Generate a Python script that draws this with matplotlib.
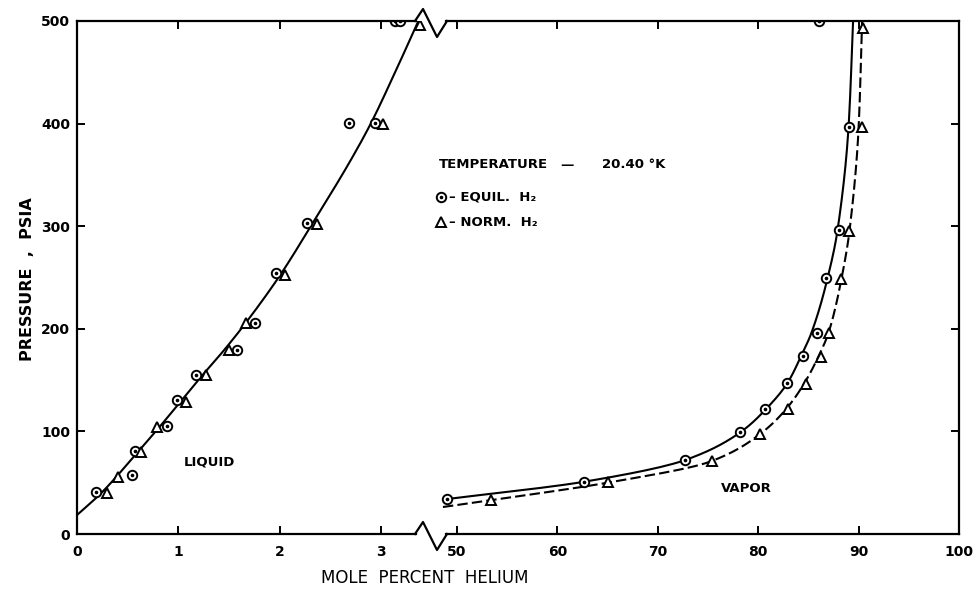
import numpy as np
import matplotlib
matplotlib.use("Agg")
import matplotlib.pyplot as plt
from matplotlib.lines import Line2D

# ---------------- data ----------------
liq_eq_x = [0.19, 0.54, 0.57, 0.89, 0.99, 1.17, 1.58, 1.76, 1.96, 2.27, 2.69, 2.94, 3.14, 3.19]
liq_eq_y = [40.6, 57.8, 81.2, 105.6, 130.6, 155.0, 179.3, 205.4, 254.1, 302.8, 400.9, 400.9, 500, 500]
liq_no_x = [0.30, 0.40, 0.63, 0.79, 1.08, 1.27, 1.50, 1.67, 2.05, 2.37, 3.02, 3.39]
liq_no_y = [39.7, 55.8, 80.2, 104.6, 129.0, 155.0, 179.3, 205.4, 252.4, 302.1, 399.6, 496]

vap_eq_x = [48.97, 62.65, 72.75, 78.2, 80.68, 82.9, 84.43, 85.89, 86.75, 88.08, 89.08, 86.09]
vap_eq_y = [34.1, 51.0, 72.1, 99.0, 121.8, 147.2, 173.8, 196.2, 249.2, 296.3, 397, 500]
vap_no_x = [53.39, 65.07, 75.35, 80.18, 83.0, 84.8, 86.22, 87.08, 88.25, 89.08, 90.31, 90.47]
vap_no_y = [33.1, 50.4, 70.9, 97.8, 121.8, 146.5, 172.8, 195.6, 248.5, 295.6, 396.4, 493]

# smoothed curves (hand-drawn fits in the reference), x as function of pressure
liq_curve_y = [18.5, 40, 80, 105, 130, 155, 179, 205, 253, 302, 364, 400, 450, 500]
liq_curve_x = [0.0, 0.24, 0.60, 0.82, 1.03, 1.24, 1.45, 1.66, 2.01, 2.32, 2.70, 2.90, 3.14, 3.37]
vap_eq_curve_y = [34, 51, 72, 99, 122, 147, 174, 196, 249, 296, 397, 500]
vap_eq_curve_x = [48.97, 62.7, 72.7, 78.2, 80.8, 82.9, 84.3, 85.3, 86.9, 87.9, 89.0, 89.45]
vap_no_curve_y = [26.3, 33, 50, 70.5, 97.5, 122, 147, 173, 196, 249, 296, 396, 500]
vap_no_curve_x = [48.6, 53.4, 65.0, 75.2, 80.2, 82.8, 84.6, 86.0, 87.0, 88.3, 89.1, 90.0, 90.35]

left_ticks = [0, 1, 2, 3]
right_ticks = [50, 60, 70, 80, 90, 100]
y_ticks = [0, 100, 200, 300, 400, 500]


def pchip(xk, yk, xq):
    xk = np.asarray(xk, float); yk = np.asarray(yk, float)
    h = np.diff(xk); d = np.diff(yk) / h
    n = len(xk); m = np.zeros(n)
    for k in range(1, n - 1):
        if d[k - 1] * d[k] > 0:
            w1 = 2 * h[k] + h[k - 1]; w2 = h[k] + 2 * h[k - 1]
            m[k] = (w1 + w2) / (w1 / d[k - 1] + w2 / d[k])
    m[0] = d[0]; m[-1] = d[-1]
    idx = np.clip(np.searchsorted(xk, xq) - 1, 0, n - 2)
    t = (xq - xk[idx]) / h[idx]
    h00 = 2 * t**3 - 3 * t**2 + 1; h10 = t**3 - 2 * t**2 + t
    h01 = -2 * t**3 + 3 * t**2; h11 = t**3 - t**2
    return h00 * yk[idx] + h10 * h[idx] * m[idx] + h01 * yk[idx + 1] + h11 * h[idx] * m[idx + 1]


W, H = 979, 589
fig = plt.figure(figsize=(W / 100, H / 100), dpi=100)
fig.patch.set_facecolor("white")

X0, XB, X1 = 77, 430, 959      # pixel positions: left spine, break, right spine
YT, YB = 21, 534               # pixel positions: top, bottom
bottom = (H - YB) / H
height = (YB - YT) / H
axL = fig.add_axes([X0 / W, bottom, (XB - X0) / W, height])
axR = fig.add_axes([XB / W, bottom, (X1 - XB) / W, height])

left_scale = 101.3   # px per unit
right_scale = 10.04  # px per unit
axL.set_xlim(0, (XB - X0) / left_scale)
axR.set_xlim(50 - (457 - XB) / right_scale, 100)
for ax in (axL, axR):
    ax.set_ylim(0, 500)
    ax.set_facecolor("none")

LW = 1.5
# curves
yy = np.linspace(liq_curve_y[0], liq_curve_y[-1], 300)
axL.plot(pchip(liq_curve_y, liq_curve_x, yy), yy, color="black", lw=LW, zorder=2)
yy = np.linspace(vap_eq_curve_y[0], vap_eq_curve_y[-1], 300)
axR.plot(pchip(vap_eq_curve_y, vap_eq_curve_x, yy), yy, color="black", lw=LW, zorder=2)
yy = np.linspace(vap_no_curve_y[0], vap_no_curve_y[-1], 300)
axR.plot(pchip(vap_no_curve_y, vap_no_curve_x, yy), yy, color="black", lw=LW,
         dashes=(5, 2), zorder=2)


def circles(ax, x, y, **kw):
    ax.plot(x, y, ls="none", marker="o", ms=6.8, mfc="white", mec="black", mew=1.4, zorder=4, **kw)
    ax.plot(x, y, ls="none", marker="o", ms=1.6, mfc="black", mec="black", zorder=5, **kw)


def triangles(ax, x, y, **kw):
    ax.plot(x, y, ls="none", marker="^", ms=7.2, mfc="white", mec="black", mew=1.4, zorder=4, **kw)


circles(axL, liq_eq_x, liq_eq_y)
triangles(axL, liq_no_x, liq_no_y)
circles(axR, vap_eq_x, vap_eq_y)
triangles(axR, vap_no_x, vap_no_y)

# spines / ticks
tickfont = dict(fontsize=10, fontweight="bold")
axL.spines["right"].set_visible(False)
axR.spines["left"].set_visible(False)
for ax in (axL, axR):
    for s in ax.spines.values():
        s.set_linewidth(1.6)
        s.set_zorder(6)
axL.set_xticks(left_ticks)
axL.set_xticklabels([str(t) for t in left_ticks], **tickfont)
axR.set_xticks(right_ticks)
axR.set_xticklabels([str(t) for t in right_ticks], **tickfont)
axL.set_yticks(y_ticks)
axL.set_yticklabels([str(t) for t in y_ticks], **tickfont)
axR.set_yticks(y_ticks)
axR.yaxis.tick_right()
axR.tick_params(axis="y", labelright=False)
for ax in (axL, axR):
    ax.tick_params(direction="in", length=6, width=1.4, top=True, pad=6)
axL.tick_params(axis="y", pad=5)
axL.tick_params(axis="x", pad=8)
axR.tick_params(axis="x", pad=8)

# break in top and bottom spines
bx0 = (416 - X0) / left_scale
axL.spines["bottom"].set_bounds(0, bx0)
axL.spines["top"].set_bounds(0, bx0)
bx1 = 50 - (457 - 446) / right_scale
axR.spines["bottom"].set_bounds(bx1, 100)
axR.spines["top"].set_bounds(bx1, 100)
for ybase in (YB, YT):
    px = np.array([415, 423, 437, 447])
    py = np.array([ybase, ybase - 12, ybase + 16, ybase])
    fig.add_artist(Line2D(px / W, 1 - py / H, color="black", lw=1.6, zorder=10))

# text
def ftext(px, py, s, **kw):
    fig.text(px / W, 1 - py / H, s, **kw)

bold = dict(fontweight="bold", color="black")
ftext(439, 165, "TEMPERATURE", fontsize=9.5, va="center", ha="left", **bold)
ftext(560, 165, "—", fontsize=9.5, va="center", ha="left", **bold)
ftext(602, 165, "20.40 °K", fontsize=9.5, va="center", ha="left", **bold)
ftext(449, 197, "– EQUIL.  H\u2082", fontsize=9.5, va="center", ha="left", **bold)
ftext(449, 222, "– NORM.  H\u2082", fontsize=9.5, va="center", ha="left", **bold)
fig.add_artist(Line2D([441 / W], [1 - 197 / H], ls="none", marker="o", ms=6.8, mfc="white",
                      mec="black", mew=1.4))
fig.add_artist(Line2D([441 / W], [1 - 197 / H], ls="none", marker="o", ms=1.6, mfc="black",
                      mec="black"))
fig.add_artist(Line2D([441 / W], [1 - 222 / H], ls="none", marker="^", ms=7.2, mfc="white",
                      mec="black", mew=1.4))
ftext(209, 462, "LIQUID", fontsize=9.5, va="center", ha="center", **bold)
ftext(746, 488, "VAPOR", fontsize=9.5, va="center", ha="center", **bold)
ftext(425, 578, "MOLE  PERCENT  HELIUM", fontsize=12, va="center", ha="center", color="black")
ftext(28, 279, "PRESSURE  ,  PSIA", fontsize=11.5, va="center", ha="center", rotation=90,
      color="black", fontweight="bold")

fig.savefig("out.png", dpi=100, facecolor="white")
